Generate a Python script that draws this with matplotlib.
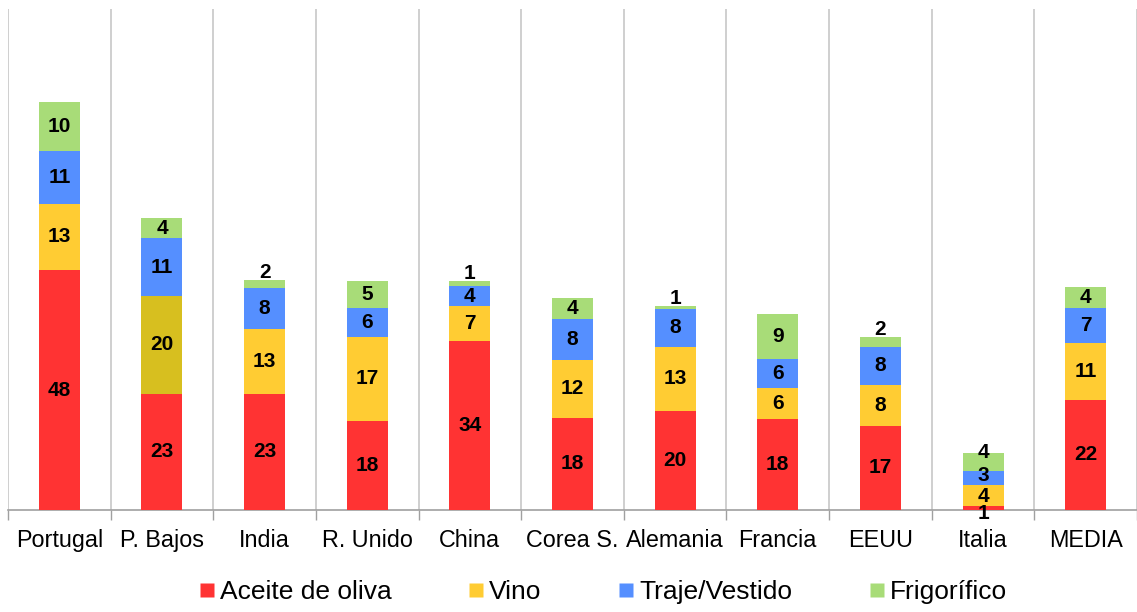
"""Stacked bar chart: product composition by country"""

import matplotlib.pyplot as plt
import numpy as np
from matplotlib.lines import Line2D

plt.rcParams['font.family'] = ['Liberation Sans', 'DejaVu Sans']

countries = ["Portugal", "P. Bajos", "India", "R. Unido", "China", "Corea S.",
             "Alemania", "Francia", "EEUU", "Italia", "MEDIA"]
aceite = [47.9, 23.2, 23.2, 17.8, 33.7, 18.4, 19.8, 18.2, 16.8, 0.8, 22.0]
vino = [13.2, 19.6, 13.0, 16.8, 7.0, 11.6, 12.7, 6.1, 8.2, 4.2, 11.4]
traje = [10.6, 11.4, 8.2, 5.8, 4.0, 8.2, 7.7, 5.8, 7.6, 2.7, 7.0]
frigo = [9.8, 4.0, 1.6, 5.4, 1.0, 4.2, 0.6, 9.0, 2.0, 3.6, 4.2]
series_names = ["Aceite de oliva", "Vino", "Traje/Vestido", "Frigorífico"]

colors = ["#FF3333", "#FFCC33", "#558FFF", "#A8DC78"]
vino_pbajos_color = "#D7BF1F"

# label nudges in pixels for crowded segments (country idx, series idx)
nudges = {(9, 0): -6, (9, 1): -1, (9, 2): 3, (9, 3): 10}

fig = plt.figure(figsize=(11.37, 6.12), dpi=100)
ax = fig.add_axes([8 / 1137, 1 - 510 / 612, 1 - 8 / 1137, 501 / 612])

x = np.arange(len(countries))
bottom = np.zeros(len(countries))
data = [aceite, vino, traje, frigo]
for s, vals in enumerate(data):
    vals = np.array(vals)
    cols = [colors[s]] * len(countries)
    if s == 1:
        cols[1] = vino_pbajos_color
    ax.bar(x, vals, 0.4, bottom=bottom, color=cols, edgecolor="none", zorder=3)
    for i, v in enumerate(vals):
        top = bottom[i] + v
        if v < 2.5 and (i, s) not in nudges:
            ax.annotate(f"{v:.0f}", (x[i], top), xytext=(0, -2),
                        textcoords="offset pixels", ha="center", va="bottom",
                        fontsize=15, fontweight="bold", zorder=4)
        else:
            ax.annotate(f"{v:.0f}", (x[i], bottom[i] + v / 2),
                        xytext=(0, nudges.get((i, s), 0)),
                        textcoords="offset pixels", ha="center", va="center",
                        fontsize=15, fontweight="bold", zorder=4)
    bottom += vals

ax.set_xlim(-0.5, len(countries) - 0.5)
ax.set_ylim(0, 100)
ax.set_yticks([])
for sp in ["top", "right", "left"]:
    ax.spines[sp].set_visible(False)
ax.spines["bottom"].set_color("#A0A0A0")
ax.spines["bottom"].set_linewidth(1.2)

ax.set_xticks(x)
ax.set_xticklabels(countries, fontsize=16.8)
ax.tick_params(axis="x", which="major", length=0, pad=14)
bounds = np.arange(len(countries) + 1) - 0.5
ax.set_xticks(bounds, minor=True)
ax.tick_params(axis="x", which="minor", length=7, color="#A0A0A0", width=1)
for b in bounds:
    ax.axvline(b, color="#CCCCCC", linewidth=1.3, zorder=1)

handles = [Line2D([], [], marker="s", linestyle="none", markersize=9.5,
                  markerfacecolor=c, markeredgecolor="none") for c in colors]
fig.legend(handles, series_names, loc="center", bbox_to_anchor=(0.529, 0.033),
           ncol=4, frameon=False, fontsize=19, handletextpad=0.1,
           columnspacing=2.8, handlelength=0.8)

plt.savefig("out.png", dpi=100)
